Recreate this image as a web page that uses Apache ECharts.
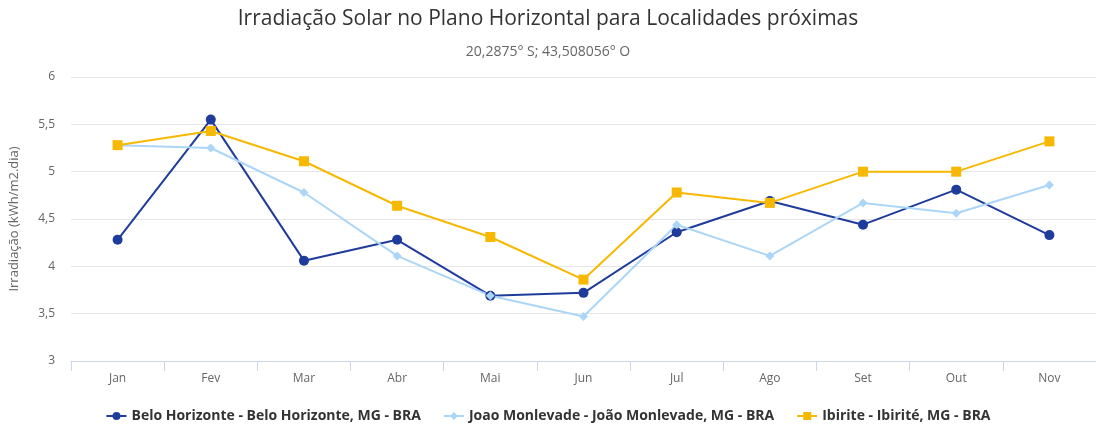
<!DOCTYPE html>
<html><head><meta charset="utf-8">
<script src="https://cdn.jsdelivr.net/npm/echarts@6/dist/echarts.min.js"></script>
<style>html,body{margin:0;padding:0;background:#fff}#c{width:1096px;height:430px}</style>
</head><body><div id="c"></div>
<script>
const categories = ['Jan','Fev','Mar','Abr','Mai','Jun','Jul','Ago','Set','Out','Nov'];
const beloHorizonte = [4.28, 5.55, 4.06, 4.28, 3.69, 3.72, 4.36, 4.69, 4.44, 4.81, 4.33];
const joaoMonlevade = [5.28, 5.25, 4.78, 4.11, 3.69, 3.47, 4.44, 4.11, 4.67, 4.56, 4.86];
const ibirite = [5.28, 5.43, 5.11, 4.64, 4.31, 3.86, 4.78, 4.67, 5.00, 5.00, 5.32];
const seriesNames = ['Belo Horizonte - Belo Horizonte, MG - BRA','Joao Monlevade - João Monlevade, MG - BRA','Ibirite - Ibirité, MG - BRA'];
const yTicks = [3, 3.5, 4, 4.5, 5, 5.5, 6];

const font = '"Open Sans", sans-serif';
const chart = echarts.init(document.getElementById('c'));
chart.setOption({
  animation: false,
  title: {
    text: 'Irradiação Solar no Plano Horizontal para Localidades próximas',
    subtext: '20,2875° S; 43,508056° O',
    left: 'center', top: 4, itemGap: 15,
    textStyle: {fontFamily: font, fontSize: 21, fontWeight: 'normal', color: '#333'},
    subtextStyle: {fontFamily: font, fontSize: 14, color: '#666'}
  },
  legend: {
    bottom: 2, left: 'center', itemGap: 22, itemWidth: 20, itemHeight: 10,
    textStyle: {fontFamily: font, fontSize: 14, fontWeight: 'bold', color: '#333'}
  },
  grid: {left: 68, right: 0, top: 77, bottom: 69},
  xAxis: {
    type: 'category', data: categories, boundaryGap: true,
    axisLine: {lineStyle: {color: '#ccd6eb'}},
    axisTick: {show: true, length: 10, lineStyle: {color: '#ccd6eb'}},
    axisLabel: {fontFamily: font, fontSize: 12, color: '#666', margin: 12}
  },
  yAxis: {
    type: 'value', min: 3, max: 6, interval: 0.5,
    name: 'Irradiação (kWh/m2.dia)', nameLocation: 'middle', nameGap: 50,
    nameTextStyle: {fontFamily: font, fontSize: 13, color: '#666'},
    axisLine: {show: false}, axisTick: {show: false},
    splitLine: {lineStyle: {color: '#e6e6e6'}},
    axisLabel: {fontFamily: font, fontSize: 12, color: '#666', margin: 16,
      formatter: v => yTicks.includes(v) ? String(v).replace('.', ',') : ''}
  },
  series: [
    {name: seriesNames[0], type: 'line', data: beloHorizonte, symbol: 'circle', symbolSize: 10,
     itemStyle: {color: '#1f3c9c'}, lineStyle: {width: 2}},
    {name: seriesNames[1], type: 'line', data: joaoMonlevade, symbol: 'diamond', symbolSize: 9,
     itemStyle: {color: '#abd6f7'}, lineStyle: {width: 2}},
    {name: seriesNames[2], type: 'line', data: ibirite, symbol: 'rect', symbolSize: 10,
     itemStyle: {color: '#f6b800'}, lineStyle: {width: 2}}
  ]
});
</script></body></html>
